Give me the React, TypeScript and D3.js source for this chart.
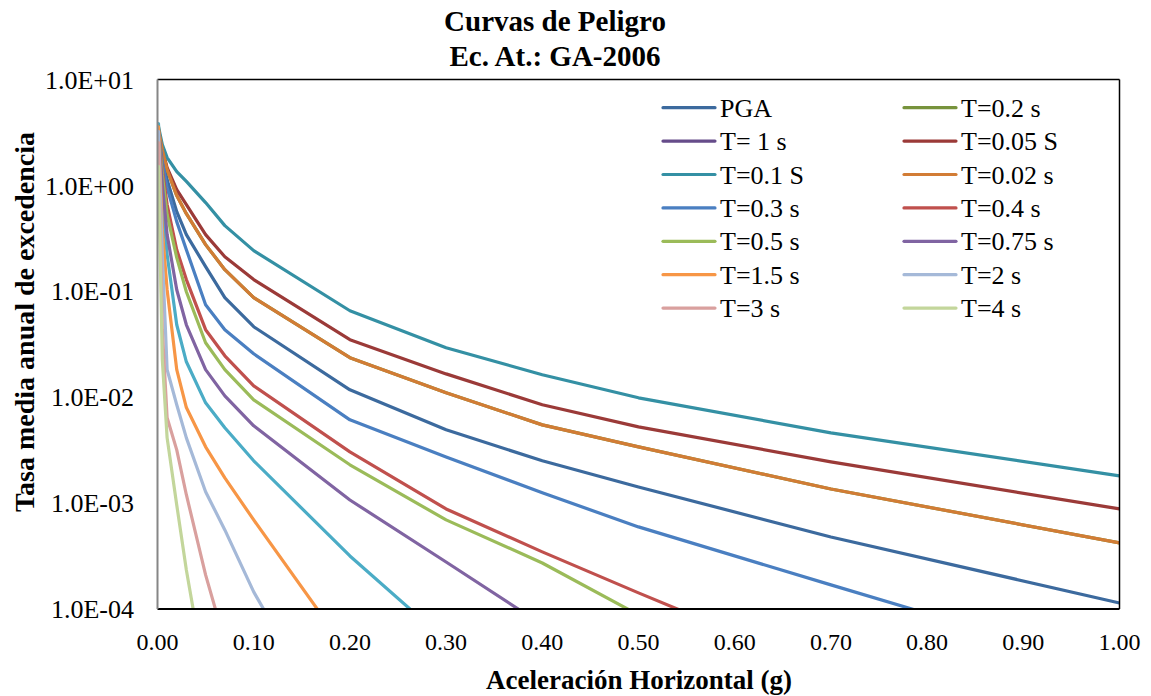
import React from "react";
import * as d3 from "d3";

// Acceleration points (g)
const accel = [0.001, 0.005, 0.01, 0.02, 0.03, 0.05, 0.07, 0.1, 0.2, 0.3, 0.4, 0.5, 0.7, 1.0];

// Annual exceedance rates per series
const pga = [3.23, 1.83, 1.13, 0.565, 0.343, 0.171, 0.087, 0.0463, 0.01174, 0.00492, 0.00251, 0.00142, 4.79e-4, 1.14e-4];
const t02 = [3.37, 2.18, 1.41, 0.801, 0.541, 0.276, 0.16, 0.087, 0.0236, 0.011, 0.00548, 0.0034, 0.00136, 4.21e-4];
const t1 = [3.84, 0.734, 0.222, 0.0483, 0.0216, 0.00885, 0.00514, 0.00251, 3.17e-4, 5.0e-5];
const t005 = [3.37, 2.18, 1.47, 0.913, 0.659, 0.343, 0.212, 0.129, 0.0349, 0.0166, 0.00848, 0.00525, 0.00245, 8.81e-4];
const t01 = [3.6, 2.43, 1.83, 1.35, 1.09, 0.688, 0.417, 0.242, 0.0655, 0.0293, 0.0163, 0.00987, 0.00461, 0.00181];
const t002 = [3.37, 2.18, 1.41, 0.801, 0.541, 0.276, 0.16, 0.087, 0.0236, 0.011, 0.00548, 0.0034, 0.00136, 4.21e-4];
const t03 = [3.16, 1.68, 0.953, 0.455, 0.247, 0.0747, 0.0434, 0.0257, 0.00611, 0.00273, 0.00125, 5.96e-4, 1.69e-4, 2.6e-5];
const t04 = [3.16, 1.41, 0.659, 0.247, 0.129, 0.0434, 0.0246, 0.0128, 0.00305, 8.81e-4, 3.46e-4, 1.42e-4, 2.5e-5];
const t05 = [3.09, 1.26, 0.53, 0.208, 0.0991, 0.0327, 0.0182, 0.00945, 0.0023, 6.94e-4, 2.72e-4, 8.8e-5, 1.7e-5];
const t075 = [3.09, 1.02, 0.343, 0.1035, 0.0483, 0.0182, 0.0103, 0.00537, 0.00107, 2.78e-4, 7.1e-5];
const t15 = [3.6, 0.382, 0.1035, 0.0182, 0.00798, 0.0034, 0.00173, 6.94e-4, 3.7e-5];
const t2 = [3.23, 0.222, 0.0182, 0.00848, 0.00413, 0.00128, 5.58e-4, 1.45e-4, 3.8e-6];
const t3 = [2.54, 0.0434, 0.00639, 0.00318, 0.0012, 2.1e-4, 4.9e-5];
const t4 = [1.51, 0.0226, 0.00413, 9.6e-4, 2.34e-4, 2.1e-5];

const seriesNames = [
  "PGA", "T=0.2 s", "T= 1 s", "T=0.05 S", "T=0.1 S", "T=0.02 s", "T=0.3 s",
  "T=0.4 s", "T=0.5 s", "T=0.75 s", "T=1.5 s", "T=2 s", "T=3 s", "T=4 s",
];
const seriesValues = [pga, t02, t1, t005, t01, t002, t03, t04, t05, t075, t15, t2, t3, t4];

// styles
const lineColors = [
  "#3C6A9E", "#77933C", "#4BACC6", "#9B3A38", "#3490A4", "#D27C35", "#4A7FC1",
  "#C0504D", "#9BBB59", "#8064A2", "#F79646", "#A5B9D8", "#D9A09E", "#C3D69B",
];
const legendColors = [
  "#3C6A9E", "#77933C", "#664C8A", "#9B3A38", "#3490A4", "#D27C35", "#4A7FC1",
  "#C0504D", "#9BBB59", "#8064A2", "#F79646", "#A5B9D8", "#D9A09E", "#C3D69B",
];

const xTicks = [0, 0.1, 0.2, 0.3, 0.4, 0.5, 0.6, 0.7, 0.8, 0.9, 1.0];
const yTicks = [10, 1, 0.1, 0.01, 0.001, 0.0001];
const yTickLabels = ["1.0E+01", "1.0E+00", "1.0E-01", "1.0E-02", "1.0E-03", "1.0E-04"];

const W = 1151;
const H = 696;
const left = 157.5;
const right = 1119.5;
const top = 79.5;
const bottom = 609;
const FONT = "'Liberation Serif', 'Times New Roman', serif";

export default function App() {
  const x = d3.scaleLinear().domain([0, 1]).range([left, right]);
  const y = d3.scaleLog().domain([1e-4, 10]).range([bottom, top]);
  const line = d3
    .line<[number, number]>()
    .x((d) => x(d[0]))
    .y((d) => y(d[1]));

  return (
    <svg
      width={W}
      height={H}
      style={{ position: "absolute", left: 0, top: 0, background: "#fff" }}
      fontFamily={FONT}
    >
      <rect x={0} y={0} width={W} height={H} fill="#fff" />
      <defs>
        <clipPath id="plotclip">
          <rect x={left} y={top} width={right - left} height={bottom - top} />
        </clipPath>
      </defs>

      {/* title */}
      <text x={555} y={31} textAnchor="middle" fontSize={29} fontWeight="bold">
        Curvas de Peligro
      </text>
      <text x={555} y={66} textAnchor="middle" fontSize={29} fontWeight="bold">
        Ec. At.: GA-2006
      </text>

      {/* lines */}
      <g clipPath="url(#plotclip)">
        {seriesValues.map((vals, i) => (
          <path
            key={i}
            d={line(vals.map((v, j) => [accel[j], v] as [number, number])) || ""}
            fill="none"
            stroke={lineColors[i]}
            strokeWidth={3.2}
            strokeLinejoin="round"
            strokeLinecap="round"
          />
        ))}
      </g>

      {/* frame */}
      <line x1={left} x2={right} y1={top} y2={top} stroke="#000" strokeWidth={1.5} />
      <line x1={right} x2={right} y1={top} y2={bottom} stroke="#000" strokeWidth={1.5} />
      <line x1={left} x2={right} y1={bottom} y2={bottom} stroke="#000" strokeWidth={2} />
      <line x1={left} x2={left} y1={top} y2={bottom} stroke="#868686" strokeWidth={2} />

      {/* y ticks */}
      {yTicks.map((t, i) => (
        <text key={i} x={134} y={y(t)} dy="0.35em" textAnchor="end" fontSize={26}>
          {yTickLabels[i]}
        </text>
      ))}
      {/* x ticks */}
      {xTicks.map((t, i) => (
        <text key={i} x={x(t)} y={650} textAnchor="middle" fontSize={24}>
          {d3.format(".2f")(t)}
        </text>
      ))}

      {/* axis titles */}
      <text x={639} y={689} textAnchor="middle" fontSize={27} fontWeight="bold">
        Aceleración Horizontal (g)
      </text>
      <text
        transform={`translate(34,322) rotate(-90)`}
        textAnchor="middle"
        fontSize={28}
        fontWeight="bold"
      >
        Tasa media anual de excedencia
      </text>

      {/* legend */}
      {seriesNames.map((name, i) => {
        const col = i % 2;
        const row = Math.floor(i / 2);
        const lx = col === 0 ? 663 : 904;
        const ly = 107.7 + row * 33.4;
        return (
          <g key={name}>
            <line
              x1={lx}
              x2={lx + 52}
              y1={ly}
              y2={ly}
              stroke={legendColors[i]}
              strokeWidth={3.2}
              strokeLinecap="round"
            />
            <text x={lx + 57} y={ly} dy="0.35em" fontSize={26}>
              {name}
            </text>
          </g>
        );
      })}
    </svg>
  );
}
